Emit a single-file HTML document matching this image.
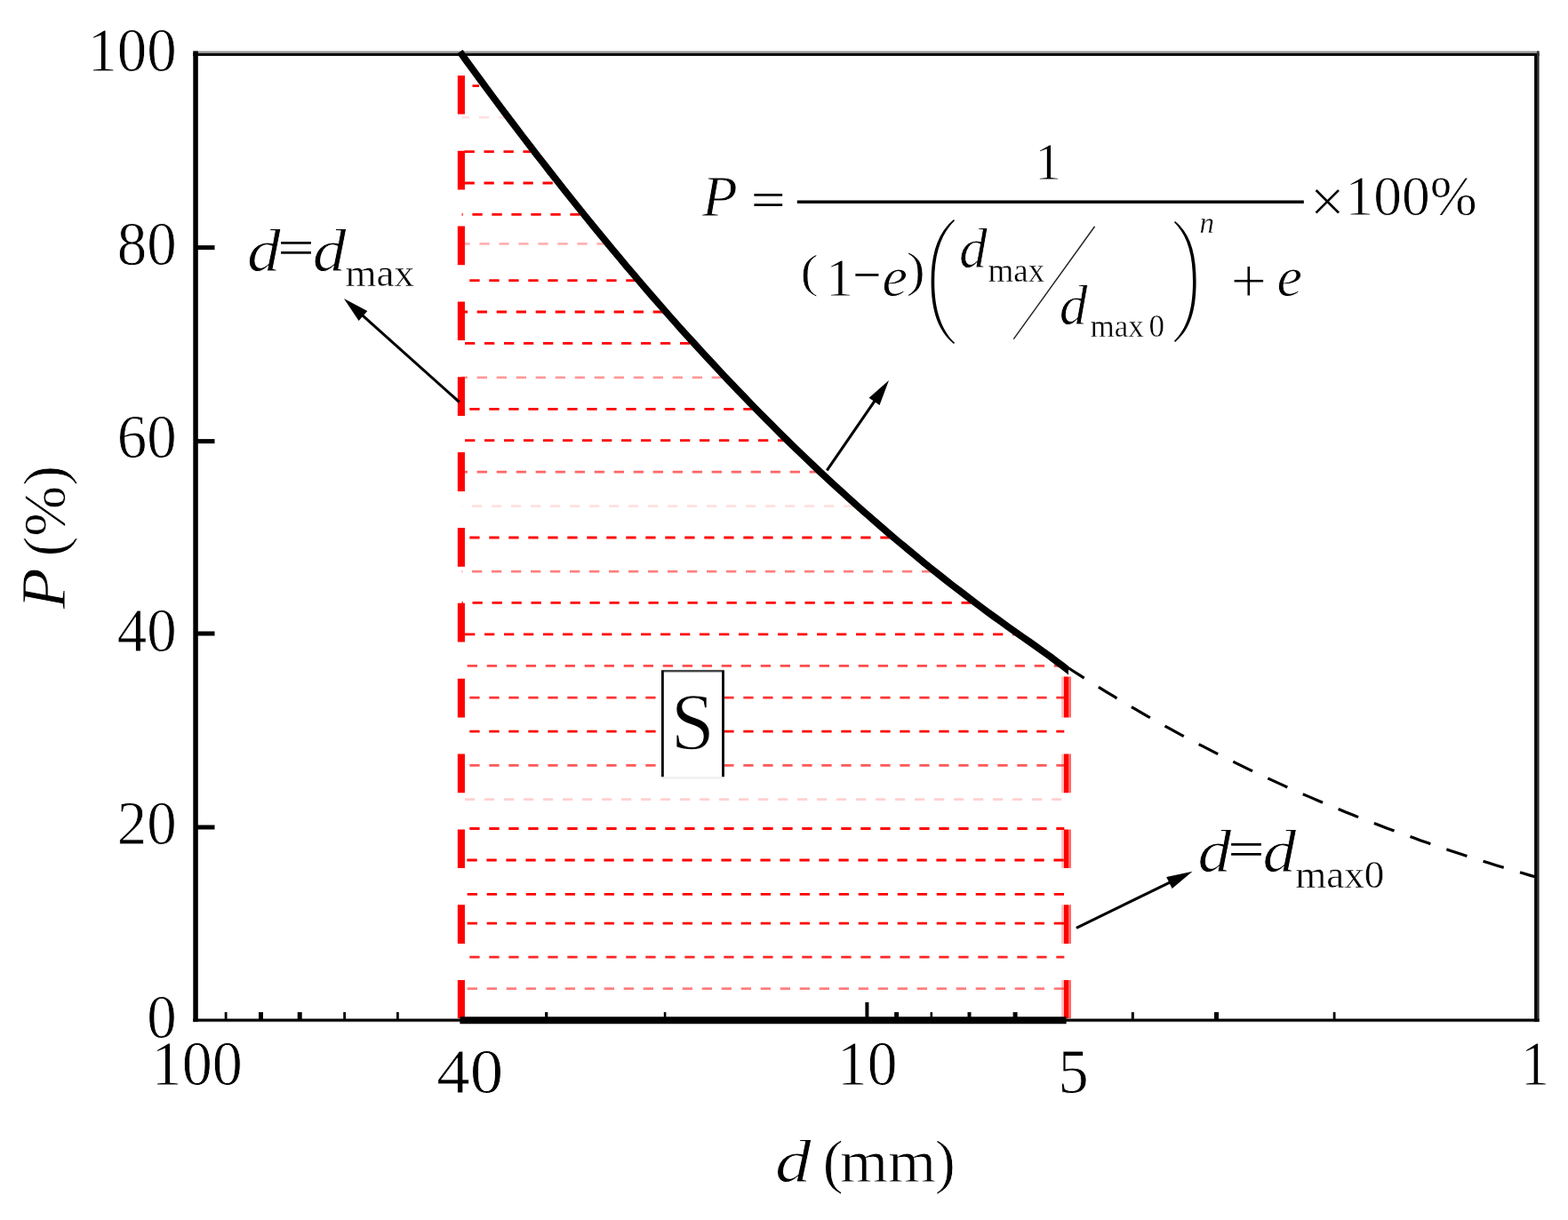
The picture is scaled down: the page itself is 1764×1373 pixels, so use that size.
<!DOCTYPE html>
<html lang="en"><head><meta charset="utf-8">
<style>html,body{margin:0;padding:0;background:#fff;overflow:hidden;}svg{display:block;}text{font-family:"Liberation Serif",serif;fill:#000;stroke:#fff;stroke-width:0.8;}.i{font-style:italic;}</style></head><body>
<svg width="1764" height="1373" viewBox="0 0 1764 1373">
<rect x="0" y="0" width="1764" height="1373" fill="#fff"/>
<clipPath id="hc"><rect x="519.6" y="60" width="700" height="1090"/></clipPath>
<g stroke="#ff0000" stroke-width="2.8" fill="none" stroke-dasharray="11.3 10.7" clip-path="url(#hc)">
<line x1="531.5" y1="96.7" x2="539.0" y2="96.7" stroke-opacity="1"/>
<line x1="517" y1="132.1" x2="569.8" y2="132.1" stroke-opacity="0.12"/>
<line x1="522.5" y1="170.6" x2="599.1" y2="170.6" stroke-opacity="1"/>
<line x1="522.5" y1="206" x2="626.7" y2="206" stroke-opacity="1"/>
<line x1="509.4" y1="241.4" x2="654.9" y2="241.4" stroke-opacity="1"/>
<line x1="517.4" y1="274.4" x2="681.9" y2="274.4" stroke-opacity="0.3"/>
<line x1="528.3" y1="315.6" x2="716.5" y2="315.6" stroke-opacity="1"/>
<line x1="514.7" y1="351" x2="747.1" y2="351" stroke-opacity="1"/>
<line x1="523" y1="386.3" x2="778.7" y2="386.3" stroke-opacity="1"/>
<line x1="514.7" y1="424.9" x2="814.5" y2="424.9" stroke-opacity="0.4"/>
<line x1="528.3" y1="460.3" x2="848.5" y2="460.3" stroke-opacity="1"/>
<line x1="523" y1="495.7" x2="883.9" y2="495.7" stroke-opacity="1"/>
<line x1="514.7" y1="531.1" x2="920.7" y2="531.1" stroke-opacity="0.6"/>
<line x1="509" y1="569.6" x2="962.8" y2="569.6" stroke-opacity="0.12"/>
<line x1="528.3" y1="605" x2="1003.5" y2="605" stroke-opacity="0.95"/>
<line x1="509" y1="643.2" x2="1049.9" y2="643.2" stroke-opacity="0.5"/>
<line x1="509.5" y1="678.4" x2="1095.3" y2="678.4" stroke-opacity="1"/>
<line x1="523" y1="713.8" x2="1143.9" y2="713.8" stroke-opacity="1"/>
<line x1="525.7" y1="749.4" x2="1196.4" y2="749.4" stroke-opacity="0.7"/>
<line x1="528.3" y1="785.2" x2="1197.3" y2="785.2" stroke-opacity="0.8"/>
<line x1="528.3" y1="823.2" x2="1197.3" y2="823.2" stroke-opacity="1"/>
<line x1="528.3" y1="861.4" x2="1197.3" y2="861.4" stroke-opacity="0.65"/>
<line x1="523" y1="899.7" x2="1197.3" y2="899.7" stroke-opacity="0.18"/>
<line x1="528.3" y1="932.5" x2="1197.3" y2="932.5" stroke-opacity="1"/>
<line x1="525.4" y1="968" x2="1197.3" y2="968" stroke-opacity="1"/>
<line x1="525.7" y1="1006.4" x2="1197.3" y2="1006.4" stroke-opacity="1"/>
<line x1="525.7" y1="1039.2" x2="1197.3" y2="1039.2" stroke-opacity="1"/>
<line x1="528.3" y1="1077.2" x2="1197.3" y2="1077.2" stroke-opacity="0.85"/>
<line x1="525.7" y1="1112.6" x2="1197.3" y2="1112.6" stroke-opacity="0.5"/>
</g>
<g stroke="none">
<rect x="217.3" y="57.5" width="1514.3" height="2.7" fill="#939393"/>
<rect x="217.3" y="60" width="1514.3" height="2.9" fill="#000"/>
<rect x="217.3" y="57.5" width="5.5" height="1092.4" fill="#000"/>
<rect x="1726.1" y="60" width="3" height="1089.9" fill="#000"/>
<rect x="1729" y="57.5" width="2.6" height="1092.4" fill="#2e2e2e"/>
<rect x="217.3" y="1146.5" width="1514.3" height="3.2" fill="#000"/>
<rect x="217.3" y="1149.7" width="1514.3" height="1.4" fill="#000" fill-opacity="0.1"/>
</g>
<g stroke="#000" stroke-width="5">
<line x1="220.0" y1="278.6" x2="241.5" y2="278.6"/>
<line x1="220.0" y1="496.6" x2="241.5" y2="496.6"/>
<line x1="220.0" y1="713.0" x2="241.5" y2="713.0"/>
<line x1="220.0" y1="931.0" x2="241.5" y2="931.0"/>
</g><g stroke="#000">
<line x1="975.4" y1="1148.2" x2="975.4" y2="1127.9" stroke-width="4"/>
<line x1="254.1" y1="1148.2" x2="254.1" y2="1139.1" stroke-width="2.8"/>
<line x1="293.5" y1="1148.2" x2="293.5" y2="1139.1" stroke-width="5"/>
<line x1="337.2" y1="1148.2" x2="337.2" y2="1139.1" stroke-width="5"/>
<line x1="387.6" y1="1148.2" x2="387.6" y2="1139.1" stroke-width="2.8"/>
<line x1="447.4" y1="1148.2" x2="447.4" y2="1139.1" stroke-width="2.8"/>
<line x1="614.7" y1="1148.2" x2="614.7" y2="1139.1" stroke-width="3.3"/>
<line x1="748.1" y1="1148.2" x2="748.1" y2="1139.1" stroke-width="2.6"/>
<line x1="1008.6" y1="1148.2" x2="1008.6" y2="1139.1" stroke-width="5"/>
<line x1="1047.8" y1="1148.2" x2="1047.8" y2="1139.1" stroke-width="2.6"/>
<line x1="1090.5" y1="1148.2" x2="1090.5" y2="1139.1" stroke-width="4"/>
<line x1="1142.1" y1="1148.2" x2="1142.1" y2="1139.1" stroke-width="5"/>
<line x1="1274.3" y1="1148.2" x2="1274.3" y2="1139.1" stroke-width="3"/>
<line x1="1368.5" y1="1148.2" x2="1368.5" y2="1139.1" stroke-width="5"/>
<line x1="1501.1" y1="1148.2" x2="1501.1" y2="1139.1" stroke-width="2.8"/>
</g>
<g stroke="#ff0000" fill="none">
<path d="M518.9,84.9V128.6 M518.9,169.8V213.4 M518.9,254.6V298.3 M518.9,339.4V383.1 M518.9,424.3V468.0 M518.9,509.1V552.9 M518.9,594.0V637.7 M518.9,678.8V722.5 M518.9,763.7V807.4 M518.9,848.5V892.2 M518.9,933.4V977.1 M518.9,1018.2V1061.9 M518.9,1103.1V1146.0" stroke-width="8.1"/>
<path d="M1195.5,761.5V807.4 M1195.5,848.5V892.2 M1195.5,933.4V977.1 M1195.5,1018.2V1061.9 M1195.5,1103.1V1146.0" stroke-width="2.8" stroke-opacity="0.25"/>
<path d="M1199.5,761.5V807.4 M1199.5,848.5V892.2 M1199.5,933.4V977.1 M1199.5,1018.2V1061.9 M1199.5,1103.1V1146.0" stroke-width="5.2"/>
<path d="M1203.5,761.5V807.4 M1203.5,848.5V892.2 M1203.5,933.4V977.1 M1203.5,1018.2V1061.9 M1203.5,1103.1V1146.0" stroke-width="2.8" stroke-opacity="0.62"/>
</g>
<line x1="517.4" y1="1148.2" x2="1199.6" y2="1148.2" stroke="#000" stroke-width="8"/>
<clipPath id="cc"><rect x="500" y="50" width="702.1" height="760"/></clipPath>
<path d="M517.4,58.3 L525.2,69.1 L533.0,79.8 L540.8,90.4 L548.6,101.0 L556.4,111.5 L564.2,122.0 L572.0,132.4 L579.8,142.7 L587.6,153.0 L595.4,163.2 L603.2,173.4 L611.1,183.4 L618.9,193.5 L626.7,203.4 L634.5,213.3 L642.3,223.2 L650.1,232.9 L657.9,242.6 L665.7,252.2 L673.5,261.8 L681.3,271.3 L689.1,280.7 L696.9,290.1 L704.7,299.4 L712.5,308.6 L720.3,317.8 L728.1,326.9 L735.9,335.9 L743.7,344.8 L751.5,353.7 L759.3,362.5 L767.1,371.3 L774.9,379.9 L782.8,388.5 L790.6,397.1 L798.4,405.5 L806.2,413.9 L814.0,422.3 L821.8,430.5 L829.6,438.7 L837.4,446.8 L845.2,454.9 L853.0,462.9 L860.8,470.8 L868.6,478.6 L876.4,486.4 L884.2,494.1 L892.0,501.7 L899.8,509.3 L907.6,516.8 L915.4,524.2 L923.2,531.6 L931.0,538.9 L938.8,546.1 L946.6,553.2 L954.5,560.3 L962.3,567.3 L970.1,574.3 L977.9,581.2 L985.7,588.0 L993.5,594.8 L1001.3,601.4 L1009.1,608.1 L1016.9,614.6 L1024.7,621.1 L1032.5,627.5 L1040.3,633.9 L1048.1,640.2 L1055.9,646.4 L1063.7,652.6 L1071.5,658.7 L1079.3,664.7 L1087.1,670.7 L1094.9,676.6 L1102.7,682.5 L1110.5,688.3 L1118.3,694.0 L1126.2,699.7 L1134.0,705.3 L1141.8,710.9 L1149.6,716.4 L1157.4,721.8 L1165.2,727.2 L1173.0,732.8 L1180.8,738.4 L1188.6,744.3 L1196.4,750.2 L1204.2,756.3 L1212.0,762.6" fill="none" stroke="#000" stroke-width="7.8" stroke-linejoin="round" clip-path="url(#cc)"/>
<path d="M1199.3,750.0 L1207.0,755.0 L1214.7,759.9 L1222.3,764.8 L1230.0,769.6 L1237.7,774.4 L1245.4,779.1 L1253.0,783.7 L1260.7,788.3 L1268.4,792.9 L1276.1,797.4 L1283.7,801.9 L1291.4,806.3 L1299.1,810.6 L1306.8,814.9 L1314.4,819.2 L1322.1,823.4 L1329.8,827.6 L1337.5,831.7 L1345.1,835.7 L1352.8,839.7 L1360.5,843.7 L1368.2,847.6 L1375.8,851.5 L1383.5,855.3 L1391.2,859.1 L1398.9,862.9 L1406.5,866.6 L1414.2,870.2 L1421.9,873.8 L1429.6,877.4 L1437.2,880.9 L1444.9,884.4 L1452.6,887.9 L1460.3,891.3 L1467.9,894.6 L1475.6,897.9 L1483.3,901.2 L1491.0,904.5 L1498.6,907.7 L1506.3,910.8 L1514.0,914.0 L1521.7,917.0 L1529.3,920.1 L1537.0,923.1 L1544.7,926.1 L1552.4,929.0 L1560.0,931.9 L1567.7,934.8 L1575.4,937.6 L1583.1,940.4 L1590.7,943.1 L1598.4,945.9 L1606.1,948.6 L1613.8,951.2 L1621.4,953.8 L1629.1,956.4 L1636.8,959.0 L1644.5,961.5 L1652.1,964.0 L1659.8,966.5 L1667.5,968.9 L1675.2,971.3 L1682.8,973.7 L1690.5,976.0 L1698.2,978.3 L1705.9,980.6 L1713.5,982.8 L1721.2,985.1 L1728.9,987.3" fill="none" stroke="#000" stroke-width="3.2" stroke-dasharray="24.2 19.1"/>
<line x1="516.7" y1="452.5" x2="405.5" y2="352.8" stroke="#000" stroke-width="3.1"/>
<polygon points="386.9,336.1 413.3,350.1 403.6,360.9" fill="#000"/>
<line x1="930.3" y1="529.4" x2="985.8" y2="448.6" stroke="#000" stroke-width="3.1"/>
<polygon points="1000.0,428.0 989.5,456.0 977.6,447.8" fill="#000"/>
<line x1="1210.9" y1="1044.3" x2="1319.0" y2="991.7" stroke="#000" stroke-width="3.1"/>
<polygon points="1341.5,980.8 1318.6,1000.0 1312.2,987.0" fill="#000"/>
<text transform="translate(198.8,80.1) scale(0.97,1)" font-size="69" text-anchor="end">100</text>
<text transform="translate(198.8,297.6) scale(0.97,1)" font-size="69" text-anchor="end">80</text>
<text transform="translate(198.8,515.3) scale(0.97,1)" font-size="69" text-anchor="end">60</text>
<text transform="translate(198.8,732.6) scale(0.97,1)" font-size="69" text-anchor="end">40</text>
<text transform="translate(198.8,950.1) scale(0.97,1)" font-size="69" text-anchor="end">20</text>
<text transform="translate(198.8,1168.4) scale(0.97,1)" font-size="69" text-anchor="end">0</text>
<text transform="translate(221.7,1220.8) scale(0.96,1)" font-size="71" text-anchor="middle">100</text>
<text transform="translate(528.7,1229.6) scale(1.04,1)" font-size="72" text-anchor="middle">40</text>
<text transform="translate(975.8,1220.8) scale(0.95,1)" font-size="71" text-anchor="middle">10</text>
<text transform="translate(1207.6,1229.6) scale(0.95,1)" font-size="72" text-anchor="middle">5</text>
<text transform="translate(1727,1221) scale(0.9,1)" font-size="71" text-anchor="middle">1</text>
<text font-size="67.5"><tspan x="872.0" y="1329.8" class="i" textLength="40.5" lengthAdjust="spacingAndGlyphs">d</tspan> <tspan x="925.5" y="1329.8" textLength="23.2" lengthAdjust="spacingAndGlyphs">(</tspan><tspan x="945.0" y="1329.8" textLength="108.2" lengthAdjust="spacingAndGlyphs">mm</tspan><tspan x="1051.7" y="1329.8" textLength="23.2" lengthAdjust="spacingAndGlyphs">)</tspan></text>
<text font-size="68.5" transform="translate(72.9,0) rotate(-90)"><tspan x="-685.6" y="0" font-size="72" class="i" textLength="46.2" lengthAdjust="spacingAndGlyphs">P</tspan> <tspan x="-626.5" y="0">(%)</tspan></text>
<rect x="744" y="754" width="70.9" height="122.5" fill="#fff" stroke="none"/>
<rect x="744" y="753.9" width="70.9" height="2.5" fill="#444"/>
<rect x="744" y="755" width="2.8" height="119.2" fill="#000"/>
<rect x="812.1" y="755" width="2.8" height="119.2" fill="#000"/>
<rect x="744" y="874.2" width="70.9" height="2.5" fill="#000" fill-opacity="0.06"/>
<text transform="translate(779.3,843.2) scale(0.97,1)" font-size="91" text-anchor="middle" style="stroke-width:1.3">S</text>
<text font-size="68.5"><tspan x="278.0" y="305" class="i" textLength="37.7" lengthAdjust="spacingAndGlyphs">d</tspan><tspan x="312.4" y="297.3" font-size="54.5" textLength="40.9" lengthAdjust="spacingAndGlyphs" stroke="none">=</tspan><tspan x="351.8" y="305" class="i" textLength="37.7" lengthAdjust="spacingAndGlyphs">d</tspan><tspan x="388.5" y="322" font-size="45" stroke-width="0.45">max</tspan></text>
<text font-size="68.5"><tspan x="1347.5" y="981" class="i" textLength="37.7" lengthAdjust="spacingAndGlyphs">d</tspan><tspan x="1381.6" y="973.7" font-size="54.5" textLength="40.9" lengthAdjust="spacingAndGlyphs" stroke="none">=</tspan><tspan x="1420.4" y="981" class="i" textLength="37.7" lengthAdjust="spacingAndGlyphs">d</tspan><tspan x="1457.3" y="999" font-size="45" stroke-width="0.45">max0</tspan></text>
<text font-size="65"><tspan x="790.0" y="243" class="i">P</tspan> <tspan x="844.9" y="244.4" font-size="56" textLength="38.5" lengthAdjust="spacingAndGlyphs" stroke="none">=</tspan></text>
<line x1="896.8" y1="227.2" x2="1466.8" y2="227.2" stroke="#000" stroke-width="3.4"/>
<text x="1179" y="202" font-size="60" text-anchor="middle">1</text>
<text font-size="62"><tspan x="900.4" y="322.5" font-size="53" textLength="20.3" lengthAdjust="spacingAndGlyphs">(</tspan><tspan x="929.0" y="332.6">1</tspan><tspan x="959.6" y="328.2" font-size="56" stroke="none">−</tspan><tspan x="992.5" y="332.6" font-size="64" class="i">e</tspan><tspan x="1019.8" y="321.5" font-size="55" textLength="21.1" lengthAdjust="spacingAndGlyphs">)</tspan></text>
<path d="M1073,247 C1055,262 1047.6,285 1047.6,317 C1047.6,349 1055,372 1073,387 L1074,385.8 C1059,371 1051.2,349 1051.2,317 C1051.2,285 1059,263 1074,248.2 Z" fill="#000"/>
<path d="M1322,249 C1339,263 1345.6,285 1345.6,317 C1345.6,349 1339,371 1322,385 L1321,383.8 C1335,370 1342,349 1342,317 C1342,285 1335,264 1321,250.2 Z" fill="#000"/>
<text font-size="63.5"><tspan x="1079.0" y="300.7" class="i">d</tspan><tspan x="1111.5" y="316.5" font-size="37" stroke-width="0.35">max</tspan></text>
<line x1="1140.3" y1="381.6" x2="1231.6" y2="254.8" stroke="#000" stroke-width="1.5" stroke-opacity="0.85"/>
<text font-size="63.5"><tspan x="1191.7" y="365" class="i">d</tspan><tspan x="1226.5" y="378.8" font-size="35" stroke-width="0.35">max</tspan> <tspan x="1292.5" y="378.8" font-size="35" stroke-width="0.35">0</tspan></text>
<text x="1349.5" y="261.8" font-size="33" class="i" style="stroke-width:0.35">n</text>
<text font-size="64"><tspan x="1384.6" y="340.3" font-size="72">+</tspan> <tspan x="1436.5" y="333" class="i">e</tspan></text>
<text font-size="63.5"><tspan x="1473.6" y="249.7" font-size="70">×</tspan><tspan x="1513.5" y="242">100%</tspan></text>
</svg></body></html>
